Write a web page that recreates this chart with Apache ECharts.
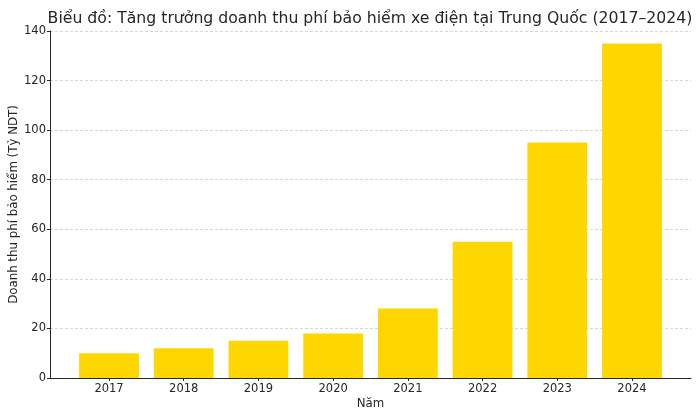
<!DOCTYPE html>
<html><head><meta charset="utf-8">
<script src="https://cdn.jsdelivr.net/npm/echarts@6/dist/echarts.min.js"></script>
<style>html,body{margin:0;padding:0;background:#fff}#c{width:700px;height:416px}</style>
</head><body><div id="c"></div>
<script>
const years = ['2017','2018','2019','2020','2021','2022','2023','2024'];
const revenue = [10, 12, 15, 18, 28, 55, 95, 135];
const yTicks = [0, 20, 40, 60, 80, 100, 120, 140];

const chart = echarts.init(document.getElementById('c'), null, {renderer:'canvas'});
const font = 'DejaVu Sans';
const txt = '#262626';
chart.setOption({
  animation: false,
  title: {
    text: 'Biểu đồ: Tăng trưởng doanh thu phí bảo hiểm xe điện tại Trung Quốc (2017–2024)',
    left: 365, top: 6, textAlign: 'center',
    textStyle: {fontFamily: font, fontSize: 15.7, fontWeight: 'normal', color: txt}
  },
  grid: {left: 50, right: 9, top: 31, bottom: 38, containLabel: false, outerBoundsMode: 'none'},
  xAxis: {
    type: 'value', min: -0.79, max: 7.79,
    name: 'Năm', nameLocation: 'middle', nameGap: 20, nameMoveOverlap: false,
    nameTextStyle: {fontFamily: font, fontSize: 11.8, color: txt},
    axisLine: {show: true, onZero: false, lineStyle: {color: '#262626', width: 1}},
    axisTick: {show: true, length: 3, lineStyle: {color: '#262626'}, customValues: years.map((y,i)=>i)},
    axisLabel: {customValues: years.map((y,i)=>i), formatter: v => years[Math.round(v)] || '', fontFamily: font, fontSize: 11.5, color: txt, margin: 5},
    splitLine: {show: false}
  },
  yAxis: {
    type: 'value', min: 0, max: 140, interval: 20,
    name: 'Doanh thu phí bảo hiểm (Tỷ NDT)', nameLocation: 'middle', nameGap: 30, nameMoveOverlap: false,
    nameTextStyle: {fontFamily: font, fontSize: 11.8, color: txt},
    axisLine: {show: true, onZero: false, lineStyle: {color: '#262626', width: 1}},
    axisTick: {show: true, length: 3, lineStyle: {color: '#262626'}},
    axisLabel: {fontFamily: font, fontSize: 11.5, color: txt, margin: 4},
    splitLine: {show: true, lineStyle: {color: '#cccccc', type: [3, 2], width: 0.8}}
  },
  series: [{
    type: 'bar',
    data: revenue.map((v, i) => [i, v]),
    barWidth: 59.8,
    itemStyle: {color: '#FFD700'}
  }]
});
</script></body></html>
